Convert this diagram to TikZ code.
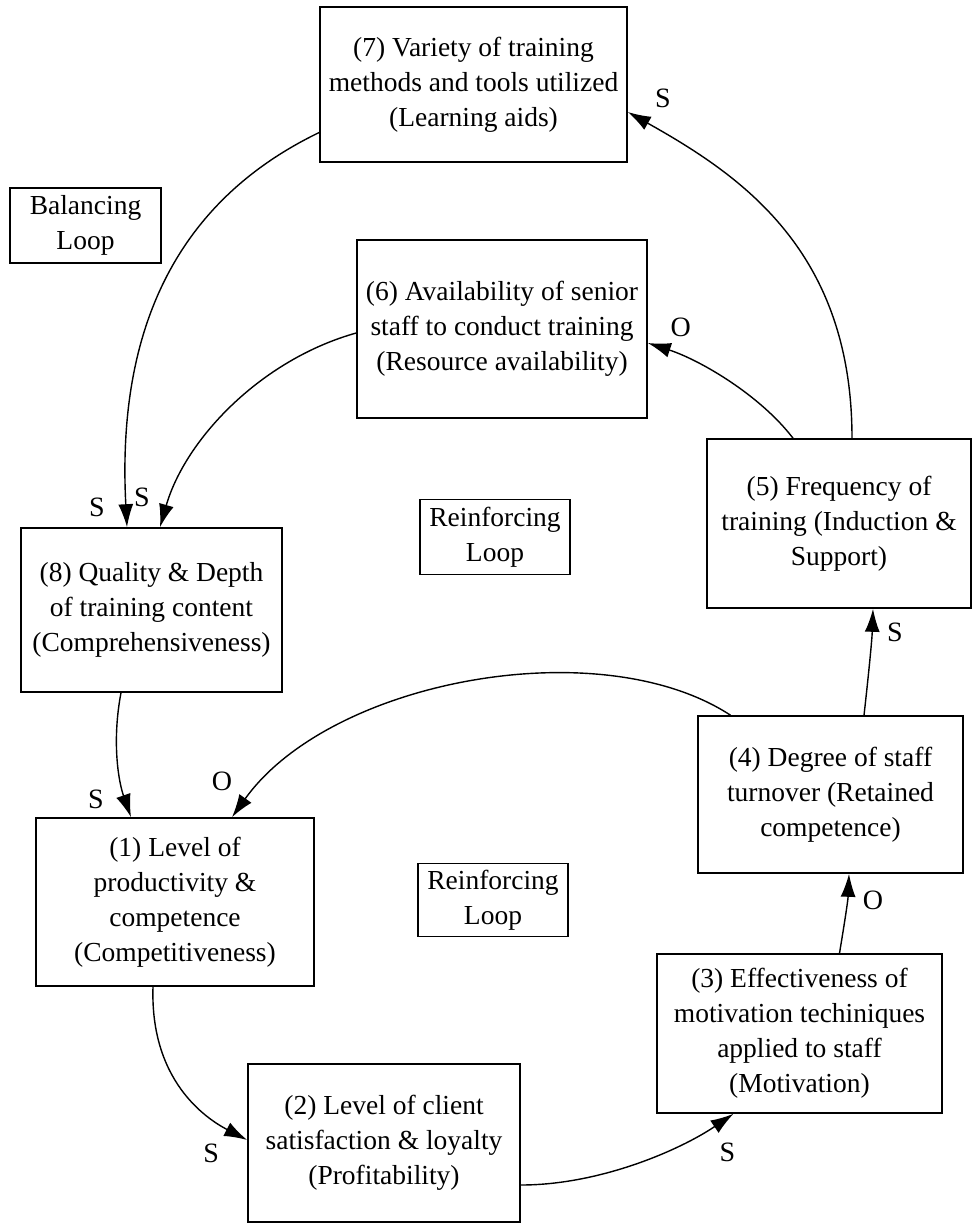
\documentclass[tikz,border=0pt]{standalone}
\usepackage{fontspec}
\setmainfont{Liberation Serif}
\usetikzlibrary{shapes,arrows.meta,positioning}

\begin{document}
\begin{tikzpicture}[x=1pt, y=-1pt, >={Latex[length=23pt,width=15pt]},
    factor/.style={rectangle, draw, line width=1.6pt, align=center, inner sep=0pt, font=\fontsize{27.5}{35}\selectfont},
    link/.style={->, line width=1.4pt},
    sign/.style={font=\fontsize{28}{30}\selectfont}]
    \useasboundingbox (0,0) rectangle (973,1223);

    \node (variety) [factor, minimum width=307pt, minimum height=155pt] at (473.5,84.5) {(7) Variety of training\\methods and tools utilized\\(Learning aids)};
    \node (balancing) [factor, minimum width=151pt, minimum height=75pt] at (85.5,225.5) {Balancing\\Loop};
    \node (seniors) [factor, minimum width=290pt, minimum height=178pt] at (502,329) {(6) Availability of senior\\staff to conduct training\\(Resource availability)};
    \node (frequency) [factor, minimum width=264pt, minimum height=169pt] at (839,523.5) {(5) Frequency of\\training (Induction \&\\Support)};
    \node (reinftop) [factor, minimum width=150pt, minimum height=75pt] at (495,537) {Reinforcing\\Loop};
    \node (quality) [factor, minimum width=261pt, minimum height=164pt] at (151.5,610) {(8) Quality \& Depth\\of training content\\(Comprehensiveness)};
    \node (turnover) [factor, minimum width=265pt, minimum height=157pt] at (830.5,794.5) {(4) Degree of staff\\turnover (Retained\\competence)};
    \node (productivity) [factor, minimum width=278pt, minimum height=168pt] at (175,902) {(1) Level of\\productivity \&\\competence\\(Competitiveness)};
    \node (reinfbottom) [factor, minimum width=150pt, minimum height=73pt] at (493,900) {Reinforcing\\Loop};
    \node (motivation) [factor, minimum width=285pt, minimum height=159pt] at (799.5,1033.5) {(3) Effectiveness of\\motivation techiniques\\applied to staff\\(Motivation)};
    \node (satisfaction) [factor, minimum width=272pt, minimum height=158pt] at (384,1143) {(2) Level of client\\satisfaction \& loyalty\\(Profitability)};

    % balancing loop
    \draw[link] ([yshift=-48pt]variety.west) .. controls (200,190) and (115,300) .. ([xshift=-24.5pt]quality.north) node[sign, at end, xshift=-30pt, yshift=20pt] {S};
    \draw[link] ([xshift=13pt]frequency.north) .. controls (852,250) and (740,175) .. ([yshift=-27.5pt]variety.east) node[sign, at end, xshift=35pt, yshift=14pt] {S};

    % upper reinforcing loop
    \draw[link] ([yshift=-4pt]seniors.west) .. controls (260,360) and (185,440) .. ([xshift=8.5pt]quality.north) node[sign, at end, xshift=-18pt, yshift=30pt] {S};
    \draw[link] ([xshift=-46pt]frequency.north) .. controls (760,395) and (700,360) .. ([yshift=-14pt]seniors.east) node[sign, at end, xshift=33pt, yshift=16pt] {O};
    \draw[link] ([xshift=-30.5pt]quality.south) .. controls (112,740) and (118,780) .. ([xshift=-44pt]productivity.north) node[sign, at end, xshift=-35pt, yshift=18pt] {S};
    \draw[link] ([xshift=-100pt]turnover.north) .. controls (600,630) and (330,680) .. ([xshift=57pt]productivity.north) node[sign, at end, xshift=-10pt, yshift=36pt] {O};

    % lower reinforcing loop
    \draw[link] ([xshift=-22pt]productivity.south) .. controls (150,1080) and (205,1118) .. ([yshift=3pt]satisfaction.west) node[sign, at end, xshift=-36pt, yshift=-13pt] {S};
    \draw[link] ([yshift=-42pt]satisfaction.east) .. controls (600,1185) and (680,1150) .. ([xshift=-66pt]motivation.south) node[sign, at end, xshift=-6pt, yshift=-39pt] {S};
    \draw[link] ([xshift=40pt]motivation.north) .. controls (845,920) and (848,900) .. ([xshift=18.5pt]turnover.south) node[sign, at end, xshift=24pt, yshift=-27pt] {O};
    \draw[link] ([xshift=33.5pt]turnover.north) .. controls (868,680) and (872,640) .. ([xshift=34pt]frequency.south) node[sign, at end, xshift=22pt, yshift=-24pt] {S};
\end{tikzpicture}
\end{document}
